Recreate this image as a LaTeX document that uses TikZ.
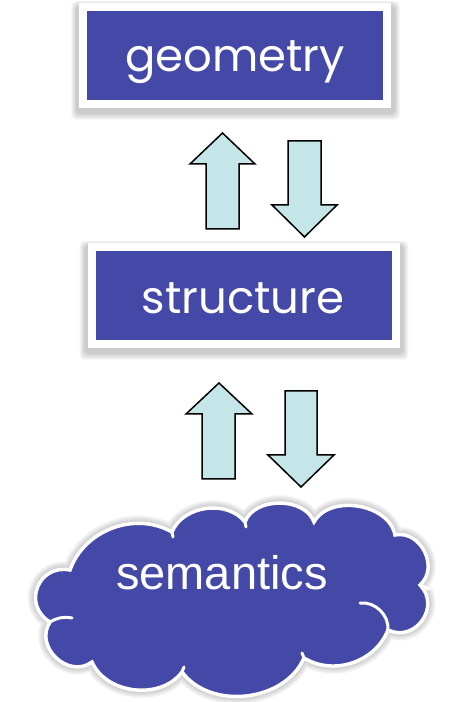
\documentclass[tikz,border=0pt]{standalone}
\usepackage{fontspec}
\usepackage{tikz}
\usetikzlibrary{backgrounds}
\newfontfamily\gothic{Poppins}
\newfontfamily\arialfont{Liberation Sans}
\definecolor{boxblue}{RGB}{68,73,168}
\definecolor{arrowcyan}{RGB}{197,230,232}
\tikzstyle{levelbox} = [fill=boxblue,draw=white,line width=8pt,minimum width=304pt,minimum height=97pt]
\tikzstyle{levellabel} = [text=white,font=\gothic\fontsize{45}{45}\selectfont,anchor=base]
\tikzstyle{blockarrow} = [fill=arrowcyan,draw=black,line width=1.5pt,line join=miter]
\tikzstyle{puff} = [white,line width=3pt,line cap=round]
\tikzstyle{haze} = [black,opacity=0.03]
% soft shadow round a level box
\newcommand{\boxhaze}[1]{%
  \begin{scope}[on background layer]
    \foreach \k in {0,...,6}
      \fill[haze,rounded corners=5pt] ([xshift=-3pt-0.8*\k pt,yshift=-6pt-\k pt]#1.south west)
        rectangle ([xshift=4pt+0.8*\k pt,yshift=-2pt+0.7*\k pt]#1.north east);
  \end{scope}}
\newcommand{\cloudpath}{(p1) to[bend left=50] (p2) to[bend left=60] (p3) to[bend left=70] (p4) to[bend left=70] (p5)
  to[bend left=75,looseness=1.2] (p6) to[bend left=80,looseness=1.4] (p7) to[bend left=50] (p8) to[bend left=60] (p9)
  to[bend left=60] (p10) to[bend left=80,looseness=1.3] (p11) to[bend left=80,looseness=1.5] cycle}

\begin{document}
\begin{tikzpicture}[x=1pt,y=1pt]
\useasboundingbox (0,0) rectangle (456,702);

% top and middle levels
\node[levelbox] (geometry) at (235,646.5) {};
\node[levellabel] (geometrytext) at (235,630) {geometry};
\node[levelbox] (structure) at (243.5,406.5) {};
\node[levellabel] (structuretext) at (243,388) {structure};
\boxhaze{geometry}
\boxhaze{structure}

% arrows between geometry and structure
\draw[blockarrow] (206,473) -- (206,538) -- (190,538) -- (222.5,569) -- (255,538) -- (239,538) -- (239,473) -- cycle;
\draw[blockarrow] (288,561) -- (288,497) -- (272,497) -- (304.5,465) -- (337,497) -- (321,497) -- (321,561) -- cycle;

% arrows between structure and semantics
\draw[blockarrow] (202,223) -- (202,288) -- (186,288) -- (219,319) -- (252,288) -- (235,288) -- (235,223) -- cycle;
\draw[blockarrow] (285,311) -- (285,247) -- (268,247) -- (301,215) -- (334,247) -- (317,247) -- (317,311) -- cycle;

% semantics cloud
\coordinate (p1) at (70,132);
\coordinate (p2) at (172,170);
\coordinate (p3) at (245,180);
\coordinate (p4) at (314,180);
\coordinate (p5) at (395,167);
\coordinate (p6) at (420,117);
\coordinate (p7) at (388,72);
\coordinate (p8) at (304,44);
\coordinate (p9) at (182,30);
\coordinate (p10) at (92,40);
\coordinate (p11) at (50,80);
\foreach \k in {0,...,6}
  \draw[haze,line width=4pt+2*\k pt,line join=round,shift={(1.5,-3)}] \cloudpath;
\path[fill=boxblue,draw=white,line width=3.5pt] \cloudpath;
\draw[puff] (p11) to[bend left=20] (72,84);
\draw[puff] (p7) to[bend right=50] (360,99);
\draw[puff] (p6) -- (429,113);
\draw[puff] (p2) -- (173,165);
\draw[puff] (p3) -- (246,175);
\draw[puff] (p8) -- (302,49);
\draw[puff] (p9) -- (184,35);
\node[text=white,font=\arialfont\fontsize{47}{47}\selectfont,anchor=base] (semantics) at (222,112) {semantics};
\end{tikzpicture}
\end{document}
